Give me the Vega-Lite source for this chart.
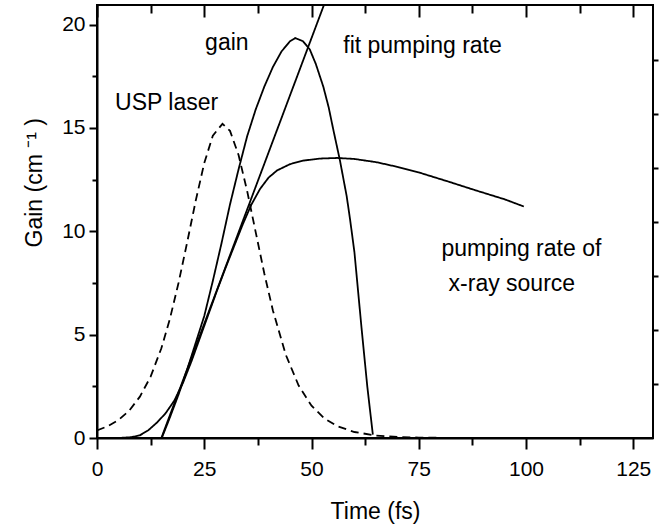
{
  "$schema": "https://vega.github.io/schema/vega-lite/v6.json",
  "width": 556,
  "height": 433,
  "autosize": "none",
  "padding": {"left": 97, "top": 5, "right": 19, "bottom": 91},
  "background": "white",
  "config": {
    "font": "Liberation Sans",
    "view": {"stroke": "black", "strokeWidth": 2},
    "axis": {"grid": false, "labelColor": "black", "titleColor": "black", "tickColor": "black", "domainColor": "black", "titleFontWeight": "normal", "labelFlush": false, "labelOverlap": false, "tickWidth": 2, "tickOpacity": 1}
  },
  "datasets": {
    "notes": [
      {"label": "gain", "t": 25.2, "v": 18.75},
      {"label": "USP laser", "t": 4.2, "v": 15.88},
      {"label": "fit pumping rate", "t": 57.4, "v": 18.63},
      {"label": "pumping rate of", "t": 80.3, "v": 8.82},
      {"label": "x-ray source", "t": 81.95, "v": 7.09}
    ]
  },
  "layer": [
    {
      "data": {"values": [
        {"series": "laser", "t": 0, "v": 0.37},
        {"series": "laser", "t": 2.5, "v": 0.57},
        {"series": "laser", "t": 5, "v": 0.87},
        {"series": "laser", "t": 7.5, "v": 1.32},
        {"series": "laser", "t": 10, "v": 2.0},
        {"series": "laser", "t": 12.5, "v": 2.97},
        {"series": "laser", "t": 15, "v": 4.34},
        {"series": "laser", "t": 17, "v": 5.77},
        {"series": "laser", "t": 19, "v": 7.5},
        {"series": "laser", "t": 21, "v": 9.45},
        {"series": "laser", "t": 23, "v": 11.47},
        {"series": "laser", "t": 25, "v": 13.3},
        {"series": "laser", "t": 27, "v": 14.63},
        {"series": "laser", "t": 29.25, "v": 15.2},
        {"series": "laser", "t": 31, "v": 14.86},
        {"series": "laser", "t": 33, "v": 13.69},
        {"series": "laser", "t": 35, "v": 11.95},
        {"series": "laser", "t": 37, "v": 9.95},
        {"series": "laser", "t": 39, "v": 7.96},
        {"series": "laser", "t": 41, "v": 6.17},
        {"series": "laser", "t": 44, "v": 4.03},
        {"series": "laser", "t": 47, "v": 2.54},
        {"series": "laser", "t": 50, "v": 1.56},
        {"series": "laser", "t": 53, "v": 0.95},
        {"series": "laser", "t": 56, "v": 0.57},
        {"series": "laser", "t": 60, "v": 0.29},
        {"series": "laser", "t": 65, "v": 0.12},
        {"series": "laser", "t": 70, "v": 0.05},
        {"series": "laser", "t": 75, "v": 0.02},
        {"series": "laser", "t": 80, "v": 0.01},
        {"series": "gain", "t": 15.1, "v": 0},
        {"series": "gain", "t": 17, "v": 1.0},
        {"series": "gain", "t": 19, "v": 2.1},
        {"series": "gain", "t": 21, "v": 3.3},
        {"series": "gain", "t": 23, "v": 4.6},
        {"series": "gain", "t": 25, "v": 5.9},
        {"series": "gain", "t": 27, "v": 7.6},
        {"series": "gain", "t": 29, "v": 9.4},
        {"series": "gain", "t": 31, "v": 11.3},
        {"series": "gain", "t": 33, "v": 13.0},
        {"series": "gain", "t": 35, "v": 14.6},
        {"series": "gain", "t": 37, "v": 15.9},
        {"series": "gain", "t": 39, "v": 17.0},
        {"series": "gain", "t": 41, "v": 17.95},
        {"series": "gain", "t": 43, "v": 18.7},
        {"series": "gain", "t": 45, "v": 19.2},
        {"series": "gain", "t": 46.2, "v": 19.35},
        {"series": "gain", "t": 48, "v": 19.2},
        {"series": "gain", "t": 49.6, "v": 18.8},
        {"series": "gain", "t": 51, "v": 18.1},
        {"series": "gain", "t": 52.75, "v": 17.0},
        {"series": "gain", "t": 54, "v": 16.0},
        {"series": "gain", "t": 55.1, "v": 14.9},
        {"series": "gain", "t": 56.6, "v": 13.46},
        {"series": "gain", "t": 58.2, "v": 11.7},
        {"series": "gain", "t": 59, "v": 10.56},
        {"series": "gain", "t": 60, "v": 9.0},
        {"series": "gain", "t": 61.7, "v": 5.24},
        {"series": "gain", "t": 63, "v": 2.5},
        {"series": "gain", "t": 64.3, "v": 0.16},
        {"series": "fit", "t": 15.0, "v": 0},
        {"series": "fit", "t": 52.9, "v": 20.95},
        {"series": "pump", "t": 5, "v": 0},
        {"series": "pump", "t": 8, "v": 0.04},
        {"series": "pump", "t": 10, "v": 0.13},
        {"series": "pump", "t": 12, "v": 0.38},
        {"series": "pump", "t": 14, "v": 0.75},
        {"series": "pump", "t": 16, "v": 1.2},
        {"series": "pump", "t": 18, "v": 1.8},
        {"series": "pump", "t": 20, "v": 2.65},
        {"series": "pump", "t": 22, "v": 3.7},
        {"series": "pump", "t": 24, "v": 4.85},
        {"series": "pump", "t": 26, "v": 6.0},
        {"series": "pump", "t": 28, "v": 7.15},
        {"series": "pump", "t": 30, "v": 8.25},
        {"series": "pump", "t": 32, "v": 9.3},
        {"series": "pump", "t": 34, "v": 10.35},
        {"series": "pump", "t": 36, "v": 11.3},
        {"series": "pump", "t": 38, "v": 12.05},
        {"series": "pump", "t": 40, "v": 12.6},
        {"series": "pump", "t": 42, "v": 12.95},
        {"series": "pump", "t": 45, "v": 13.25},
        {"series": "pump", "t": 48, "v": 13.42},
        {"series": "pump", "t": 52, "v": 13.52},
        {"series": "pump", "t": 56, "v": 13.55},
        {"series": "pump", "t": 60, "v": 13.5},
        {"series": "pump", "t": 65, "v": 13.35},
        {"series": "pump", "t": 70, "v": 13.12},
        {"series": "pump", "t": 75, "v": 12.85},
        {"series": "pump", "t": 82, "v": 12.4},
        {"series": "pump", "t": 88, "v": 12.0},
        {"series": "pump", "t": 95, "v": 11.55},
        {"series": "pump", "t": 99.5, "v": 11.2}
      ]},
      "mark": {"type": "line", "color": "black", "strokeWidth": 1.8, "clip": true},
      "encoding": {
        "x": {
          "field": "t", "type": "quantitative",
          "scale": {"domain": [0, 129.6], "nice": false},
          "axis": {
            "orient": "bottom",
            "values": [0, 25, 50, 75, 100, 125],
            "format": "d",
            "labelFontSize": 21, "labelPadding": 9,
            "ticks": true, "tickSize": 11,
            "domainWidth": 2,
            "title": "Time (fs)", "titleFontSize": 23,
            "titleX": 278, "titleY": 80, "titleBaseline": "alphabetic", "titleAlign": "center"
          }
        },
        "y": {
          "field": "v", "type": "quantitative",
          "scale": {"domain": [0, 20.95], "nice": false},
          "axis": {
            "orient": "left",
            "values": [0, 5, 10, 15, 20],
            "format": "d",
            "labelFontSize": 21, "labelPadding": 4,
            "ticks": true, "tickSize": 8,
            "domainWidth": 2,
            "title": "Gain (cm ⁻¹ )", "titleFontSize": 23,
            "titleAngle": -90, "titleAlign": "left", "titleBaseline": "alphabetic",
            "titleX": -56, "titleY": 242
          }
        },
        "detail": {"field": "series"},
        "strokeDash": {
          "field": "series", "type": "nominal",
          "scale": {"domain": ["laser", "gain", "fit", "pump"], "range": [[8, 5], [1, 0], [1, 0], [1, 0]]},
          "legend": null
        }
      }
    },
    {
      "data": {"name": "notes"},
      "mark": {"type": "text", "align": "left", "baseline": "alphabetic", "fontSize": 23, "color": "black"},
      "encoding": {
        "x": {
          "field": "t", "type": "quantitative",
          "scale": {"domain": [0, 129.6], "nice": false},
          "axis": {
            "orient": "top",
            "values": [0, 25, 50, 75, 100, 125],
            "labels": false, "domain": false, "title": null,
            "ticks": true, "tickSize": -12
          }
        },
        "y": {
          "field": "v", "type": "quantitative",
          "scale": {"domain": [0, 20.95], "nice": false},
          "axis": {
            "orient": "right",
            "values": [2.61, 5.22, 7.84, 10.45, 13.06, 15.67, 18.28],
            "labels": false, "domain": false, "title": null,
            "ticks": true, "tickSize": 5,
            "encode": {"ticks": {"update": {"x2": {"signal": "round(datum.value / 2.612) % 2 === 0 ? -10 : -5"}}}}
          }
        },
        "text": {"field": "label"}
      }
    },
    {
      "data": {"name": "notes"},
      "mark": {"type": "point", "opacity": 0},
      "encoding": {
        "x": {
          "field": "t", "type": "quantitative",
          "scale": {"domain": [0, 129.6], "nice": false},
          "axis": {
            "orient": "bottom",
            "values": [12.5, 37.5, 62.5, 87.5, 112.5],
            "labels": false, "domain": false, "title": null,
            "ticks": true, "tickSize": 7
          }
        },
        "y": {
          "field": "v", "type": "quantitative",
          "scale": {"domain": [0, 20.95], "nice": false},
          "axis": {
            "orient": "left",
            "values": [2.5, 7.5, 12.5, 17.5],
            "labels": false, "domain": false, "title": null,
            "ticks": true, "tickSize": 5
          }
        }
      }
    },
    {
      "data": {"name": "notes"},
      "mark": {"type": "point", "opacity": 0},
      "encoding": {
        "x": {
          "field": "t", "type": "quantitative",
          "scale": {"domain": [0, 129.6], "nice": false},
          "axis": {
            "orient": "top",
            "values": [12.5, 37.5, 62.5, 87.5, 112.5],
            "labels": false, "domain": false, "title": null,
            "ticks": true, "tickSize": -8
          }
        },
        "y": {
          "field": "v", "type": "quantitative",
          "scale": {"domain": [0, 20.95], "nice": false},
          "axis": null
        }
      }
    }
  ],
  "resolve": {"axis": {"x": "independent", "y": "independent"}}
}
